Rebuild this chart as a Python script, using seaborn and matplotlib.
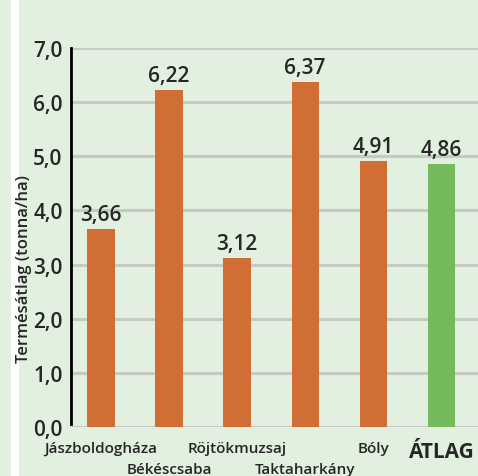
import matplotlib
matplotlib.use("Agg")
import matplotlib.pyplot as plt
from matplotlib.patches import Rectangle
import seaborn as sns
import pandas as pd

# adatok a képről
telepulesek = ["Jászboldogháza", "Békéscsaba", "Röjtökmuzsaj", "Taktaharkány", "Bóly", "ÁTLAG"]
termesatlag = [3.66, 6.22, 3.12, 6.37, 4.91, 4.86]
cimkek = ["3,66", "6,22", "3,12", "6,37", "4,91", "4,86"]
y_ticks = [0, 1, 2, 3, 4, 5, 6, 7]
y_ticklabels = ["0,0", "1,0", "2,0", "3,0", "4,0", "5,0", "6,0", "7,0"]
also_sor = [1, 3]  # ezek a címkék az alsó sorba kerülnek

bg = "#e1f0df"
narancs = "#d06e36"
zold = "#74b95a"

sns.set_style("white")
plt.rcParams["font.family"] = ["Open Sans", "DejaVu Sans"]

df = pd.DataFrame({"telepules": telepulesek, "ertek": termesatlag})
szinek = {t: (zold if t == "ÁTLAG" else narancs) for t in telepulesek}

fig = plt.figure(figsize=(4.78, 4.77), dpi=100, facecolor=bg)
# bal oldali fehér csík
fig.patches.append(Rectangle((11 / 478, 0), 8 / 478, 1, transform=fig.transFigure,
                             facecolor="white", edgecolor="none", zorder=0))
ax = fig.add_axes([71 / 478, 1 - 428 / 477, 1 - 71 / 478, (428 - 49) / 477])
ax.set_facecolor(bg)

sns.barplot(data=df, x="telepules", y="ertek", hue="telepules", palette=szinek,
            width=0.4, legend=False, saturation=1, ax=ax, zorder=3,
            edgecolor="none", linewidth=0)

ax.set_ylim(0, 7)
ax.set_xlim(-0.44, 5.54)
ax.set_yticks(y_ticks)
ax.set_yticklabels(y_ticklabels, fontsize=15, fontweight="semibold")
ax.yaxis.grid(True, color="#c8c8c8", linewidth=2.2, zorder=0)
ax.set_axisbelow(True)
ax.tick_params(axis="y", length=0, pad=6)
ax.tick_params(axis="x", length=0, pad=10)

for s in ["top", "right", "bottom"]:
    ax.spines[s].set_visible(False)
ax.spines["left"].set_color("black")
ax.spines["left"].set_linewidth(2)
ax.spines["left"].set_bounds(0.05, 7)

# felső sor: tengely címkék, alsó sor: külön szöveg
ax.set_xticks(range(len(telepulesek)))
ax.set_xticklabels(["" if i in also_sor else t for i, t in enumerate(telepulesek)],
                   fontsize=11, fontweight="semibold")
utolso = ax.get_xticklabels()[-1]
utolso.set_fontsize(15)
utolso.set_fontweight("bold")
for i in also_sor:
    ax.text(i, -0.093, telepulesek[i], transform=ax.get_xaxis_transform(),
            ha="center", va="top", fontsize=11, fontweight="semibold")

ax.set_xlabel("")
ax.set_ylabel("")
fig.text(24 / 478, 1 - 269 / 477, "Termésátlag (tonna/ha)", rotation=90,
         ha="center", va="center", fontsize=12, fontweight="semibold")

for i, (v, c) in enumerate(zip(termesatlag, cimkek)):
    ax.annotate(c, (i, v), xytext=(0, 3), textcoords="offset points",
                ha="center", va="bottom", fontsize=15, fontweight="semibold")

fig.savefig("out.png", dpi=100, facecolor=bg)
